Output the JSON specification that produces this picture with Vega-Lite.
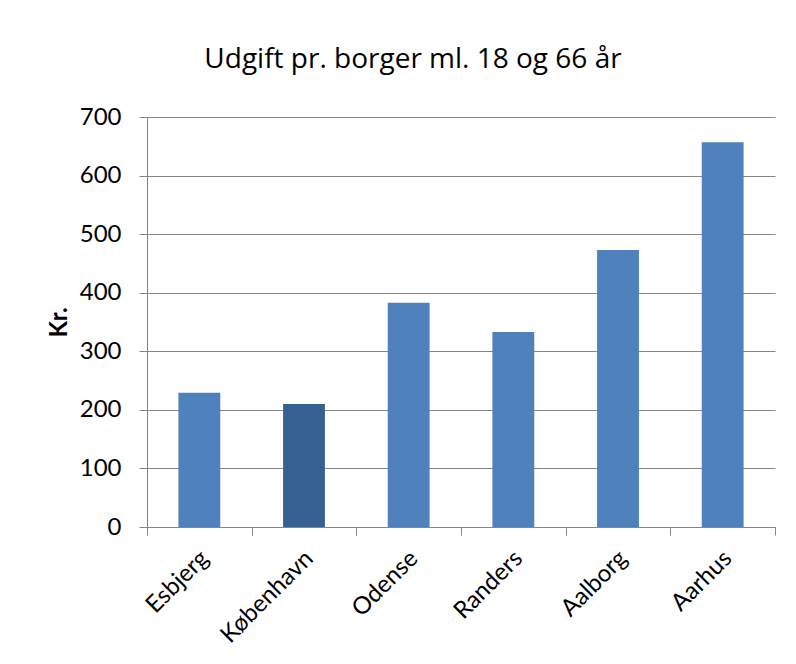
{
  "$schema": "https://vega.github.io/schema/vega-lite/v6.json",
  "width": 628,
  "height": 410,
  "autosize": {"type": "none"},
  "padding": {"left": 147, "top": 117, "right": 21, "bottom": 137},
  "background": "white",
  "title": {
    "text": "Udgift pr. borger ml. 18 og 66 år",
    "font": "Open Sans",
    "fontSize": 28,
    "fontWeight": "normal",
    "color": "#000000",
    "anchor": "middle",
    "frame": "group",
    "baseline": "alphabetic",
    "dx": -48,
    "offset": 9
  },
  "data": {
    "values": [
      {"by": "Esbjerg", "kr": 229, "hl": "n"},
      {"by": "København", "kr": 210, "hl": "y"},
      {"by": "Odense", "kr": 383, "hl": "n"},
      {"by": "Randers", "kr": 333, "hl": "n"},
      {"by": "Aalborg", "kr": 473, "hl": "n"},
      {"by": "Aarhus", "kr": 657, "hl": "n"}
    ]
  },
  "encoding": {
    "x": {
      "field": "by",
      "type": "nominal",
      "sort": null,
      "scale": {"paddingInner": 0.6, "paddingOuter": 0.3}
    },
    "y": {
      "field": "kr",
      "type": "quantitative",
      "scale": {"domain": [0, 700]}
    }
  },
  "layer": [
    {
      "mark": {"type": "bar"},
      "encoding": {
        "x": {
          "field": "by",
          "type": "nominal",
          "sort": null,
          "axis": {
            "orient": "bottom",
            "title": null,
            "labelAngle": -45,
            "labelFont": "Lato",
            "labelFontSize": 24,
            "labelColor": "#000000",
            "labelPadding": 19,
            "labelOffset": -3,
            "ticks": false,
            "domainColor": "#868686",
            "grid": false
          }
        },
        "y": {
          "field": "kr",
          "type": "quantitative",
          "axis": {
            "title": "Kr.",
            "titleFont": "Lato",
            "titleFontSize": 24,
            "titleFontWeight": "bold",
            "titleColor": "#000000",
            "titlePadding": 8,
            "values": [0, 100, 200, 300, 400, 500, 600, 700],
            "labelFont": "Lato",
            "labelFontSize": 24,
            "labelColor": "#000000",
            "labelPadding": 18,
            "tickSize": 8,
            "tickColor": "#868686",
            "domainColor": "#868686",
            "gridColor": "#868686",
            "gridOpacity": 1
          }
        },
        "color": {
          "field": "hl",
          "type": "nominal",
          "scale": {"domain": ["n", "y"], "range": ["#4F81BD", "#376092"]},
          "legend": null
        }
      }
    },
    {
      "mark": {"type": "bar", "opacity": 0},
      "encoding": {
        "x": {
          "field": "by",
          "type": "nominal",
          "sort": null,
          "axis": {
            "orient": "bottom",
            "title": null,
            "labels": false,
            "domain": false,
            "grid": false,
            "ticks": true,
            "tickSize": 8,
            "tickWidth": 1,
            "tickOpacity": 1,
            "tickColor": "#868686",
            "tickOffset": -52.33,
            "zindex": 2
          }
        }
      }
    },
    {
      "mark": {"type": "bar", "opacity": 0},
      "encoding": {
        "x": {
          "field": "by",
          "type": "nominal",
          "sort": null,
          "axis": {
            "orient": "bottom",
            "title": null,
            "labels": false,
            "domain": false,
            "grid": false,
            "ticks": true,
            "tickSize": 8,
            "tickWidth": 1,
            "tickOpacity": 1,
            "tickColor": "#868686",
            "tickOffset": 52.33,
            "zindex": 2
          }
        }
      }
    }
  ],
  "resolve": {"axis": {"x": "independent"}},
  "config": {"view": {"stroke": null}}
}
